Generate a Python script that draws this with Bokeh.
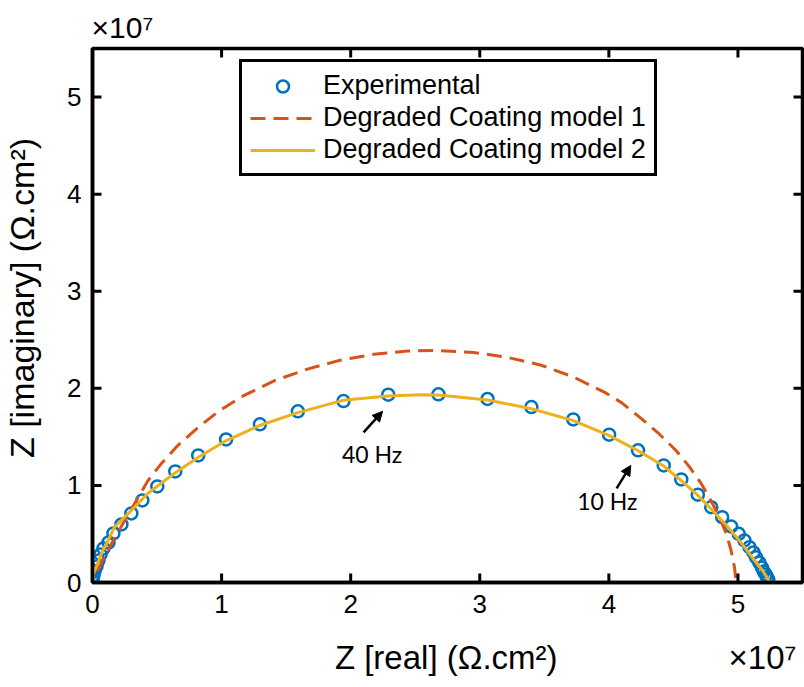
import json
from bokeh.plotting import figure
from bokeh.models import (LinearAxis, Legend, LegendItem, Arrow, NormalHead, Label,
                          FixedTicker, CustomJSTickFormatter)
from bokeh.embed import file_html
from bokeh.resources import INLINE

# ---- data (values in units of 1e7 Ohm.cm^2) ----
exp_real = [0.001, 0.003, 0.008, 0.015, 0.031, 0.046, 0.062, 0.085, 0.124, 0.162, 0.224, 0.301,
            0.386, 0.502, 0.641, 0.819, 1.035, 1.297, 1.591, 1.944, 2.291, 2.680, 3.060, 3.400,
            3.724, 4.002, 4.226, 4.425, 4.561, 4.689, 4.793, 4.878, 4.947, 5.006, 5.050, 5.089,
            5.120, 5.140, 5.165, 5.185, 5.200, 5.215, 5.225, 5.235]
exp_imag = [0.020, 0.040, 0.072, 0.113, 0.165, 0.227, 0.289, 0.351, 0.412, 0.505, 0.598, 0.711,
            0.845, 0.990, 1.144, 1.309, 1.474, 1.629, 1.763, 1.869, 1.935, 1.938, 1.890, 1.807,
            1.680, 1.523, 1.361, 1.206, 1.062, 0.904, 0.776, 0.673, 0.577, 0.502, 0.433, 0.364,
            0.310, 0.260, 0.206, 0.155, 0.113, 0.082, 0.052, 0.030]

m1_real = [0.04, 0.083, 0.16, 0.25, 0.34, 0.43, 0.53, 0.66, 0.82, 0.97, 1.15, 1.41, 1.67, 1.92,
           2.18, 2.44, 2.67, 2.95, 3.21, 3.47, 3.72, 3.98, 4.10, 4.24, 4.39, 4.52, 4.625, 4.715,
           4.79, 4.857, 4.91, 4.947, 4.973, 4.986]
m1_imag = [0.12, 0.244, 0.43, 0.64, 0.845, 1.05, 1.22, 1.41, 1.60, 1.756, 1.91, 2.08, 2.20, 2.29,
           2.35, 2.385, 2.39, 2.37, 2.32, 2.24, 2.12, 1.95, 1.85, 1.70, 1.53, 1.36, 1.19, 1.02,
           0.845, 0.673, 0.50, 0.33, 0.158, 0.0]

m2_real = [0.0, 0.005, 0.03, 0.07, 0.12, 0.17, 0.30, 0.43, 0.63, 0.82, 1.02, 1.30, 1.59, 1.94,
           2.29, 2.54, 2.68, 3.06, 3.40, 3.72, 4.00, 4.23, 4.425, 4.56, 4.69, 4.79, 4.91, 5.01,
           5.11, 5.19, 5.24]
m2_imag = [0.0, 0.08, 0.16, 0.30, 0.43, 0.57, 0.74, 0.92, 1.12, 1.29, 1.45, 1.62, 1.75, 1.876,
           1.92, 1.935, 1.93, 1.88, 1.79, 1.67, 1.515, 1.354, 1.20, 1.05, 0.897, 0.76, 0.59, 0.433,
           0.26, 0.124, 0.02]

x_ticks = [0, 1, 2, 3, 4, 5]
y_ticks = [0, 1, 2, 3, 4, 5]
series_labels = ["Experimental", "Degraded Coating model 1", "Degraded Coating model 2"]
x_label = "Z [real] (\u03a9.cm\u00b2)"
y_label = "Z [imaginary] (\u03a9.cm\u00b2)"
exp_mult = "\u00d710\u2077"

annot_text = ["40 Hz", "10 Hz"]
annot_x = [2.166, 3.988]
annot_y = [1.32, 0.835]
arrow_x0 = [2.10, 4.06]
arrow_y0 = [1.546, 0.97]
arrow_x1 = [2.247, 4.17]
arrow_y1 = [1.763, 1.206]

X_MIN, X_MAX = 0, 5.5
Y_MIN, Y_MAX = 0, 5.5
X_LABEL_POS = 2.74   # where the x-axis title is centred
X_MULT_POS = 5.19    # where the bottom "x10^7" is centred
Y_LABEL_POS = 2.93   # where the y-axis title is centred

W, H = 804, 687
BORDER_L, BORDER_R, BORDER_T, BORDER_B = 91, 2, 48, 105
TICK_PX = 9
# tick length converted to data units for each direction
tick_dx = TICK_PX * (X_MAX - X_MIN) / (W - BORDER_L - BORDER_R)
tick_dy = TICK_PX * (Y_MAX - Y_MIN) / (H - BORDER_T - BORDER_B)

BLUE = "#0072BD"
RED = "#D95319"
YELLOW = "#EDB120"
FONT = "Liberation Sans"

p = figure(width=W, height=H, x_range=(X_MIN, X_MAX), y_range=(Y_MIN, Y_MAX),
           output_backend="svg", toolbar_location=None, title=exp_mult,
           min_border_left=BORDER_L, min_border_right=BORDER_R,
           min_border_top=BORDER_T, min_border_bottom=BORDER_B)
p.background_fill_color = "white"
p.border_fill_color = "white"
p.grid.visible = False
p.outline_line_color = "black"
p.outline_line_width = 3.5
p.outline_line_alpha = 1.0

# top-left multiplier as the title
p.title.align = "left"
p.title.text_font = FONT
p.title.text_font_size = "30px"
p.title.text_font_style = "normal"
p.title.text_color = "black"
p.title.offset = -1

xb = p.below[0]
yl = p.left[0]

r_exp = p.scatter(exp_real, exp_imag, marker="circle", size=12, line_color=BLUE,
                  line_width=2.5, fill_color=None)
r_m1 = p.line(m1_real, m1_imag, line_color=RED, line_width=3, line_dash="15 8")
r_m2 = p.line(m2_real, m2_imag, line_color=YELLOW, line_width=3)

# inward tick marks on all four sides of the box
nx, ny = len(x_ticks), len(y_ticks)
p.segment(x0=x_ticks, x1=x_ticks, y0=[Y_MIN] * nx, y1=[Y_MIN + tick_dy] * nx,
          line_color="black", line_width=3)
p.segment(x0=x_ticks, x1=x_ticks, y0=[Y_MAX] * nx, y1=[Y_MAX - tick_dy] * nx,
          line_color="black", line_width=3)
p.segment(x0=[X_MIN] * ny, x1=[X_MIN + tick_dx] * ny, y0=y_ticks, y1=y_ticks,
          line_color="black", line_width=3)
p.segment(x0=[X_MAX] * ny, x1=[X_MAX - tick_dx] * ny, y0=y_ticks, y1=y_ticks,
          line_color="black", line_width=3)

# axes (tick numbers)
xb.ticker = FixedTicker(ticks=x_ticks)
yl.ticker = FixedTicker(ticks=y_ticks)

for ax in [xb, yl]:
    ax.axis_line_color = "black"
    ax.axis_line_width = 3.5
    ax.major_tick_in = 0
    ax.major_tick_out = 0
    ax.major_tick_line_color = None
    ax.minor_tick_line_color = None
    ax.major_label_text_font = FONT
    ax.major_label_text_font_size = "26px"
    ax.major_label_text_color = "black"

xb.major_label_standoff = 12
yl.major_label_standoff = 11


def title_axis(ticks, code, size, standoff, orientation="horizontal"):
    ax = LinearAxis(ticker=FixedTicker(ticks=ticks), formatter=CustomJSTickFormatter(code=code))
    ax.axis_line_color = None
    ax.major_tick_line_color = None
    ax.minor_tick_line_color = None
    ax.major_label_standoff = standoff
    ax.major_label_orientation = orientation
    ax.major_label_text_font = FONT
    ax.major_label_text_font_size = size
    ax.major_label_text_color = "black"
    return ax


# row under the x-axis numbers: axis title and the "x10^7" multiplier
xb2 = title_axis([X_LABEL_POS, X_MULT_POS],
                 "return tick < %f ? %s : %s;" % ((X_LABEL_POS + X_MULT_POS) / 2,
                                                  json.dumps(x_label), json.dumps(exp_mult)),
                 "33px", 17)
p.add_layout(xb2, "below")

# column left of the y-axis numbers: y-axis title
yl2 = title_axis([Y_LABEL_POS], "return %s;" % json.dumps(y_label), "34px", 17, "parallel")
p.add_layout(yl2, "left")

# annotations
for i in range(len(annot_text)):
    p.add_layout(Arrow(x_start=arrow_x0[i], y_start=arrow_y0[i], x_end=arrow_x1[i], y_end=arrow_y1[i],
                       line_width=2.5, line_color="black",
                       end=NormalHead(size=10, fill_color="black", line_color="black")))
    p.add_layout(Label(x=annot_x[i], y=annot_y[i], text=annot_text[i], text_font="Lato",
                       text_font_size="23px", text_color="black", text_align="center",
                       text_baseline="middle"))

legend = Legend(items=[LegendItem(label=series_labels[0], renderers=[r_exp]),
                       LegendItem(label=series_labels[1], renderers=[r_m1]),
                       LegendItem(label=series_labels[2], renderers=[r_m2])],
                location=(147, 406))
legend.label_text_font = FONT
legend.label_text_font_size = "27px"
legend.label_text_color = "black"
legend.glyph_width = 65
legend.glyph_height = 30
legend.label_standoff = 8
legend.padding = 8
legend.spacing = 1
legend.margin = 0
legend.border_line_color = "black"
legend.border_line_width = 3
legend.border_line_alpha = 1.0
legend.background_fill_color = "white"
legend.background_fill_alpha = 1.0
p.add_layout(legend)

open("out.html", "w").write(file_html(p, INLINE))
